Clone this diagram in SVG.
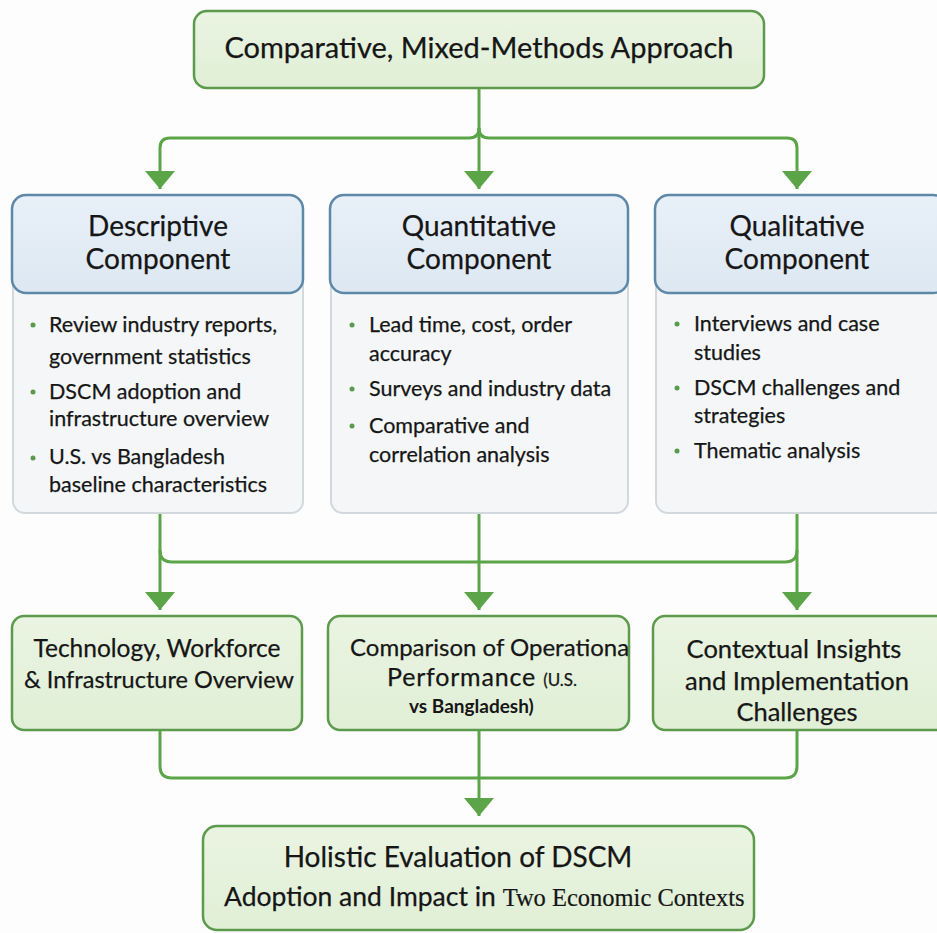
<svg xmlns="http://www.w3.org/2000/svg" width="937" height="933" viewBox="0 0 937 933">
  <defs>
    <linearGradient id="greenFill" x1="0" y1="0" x2="0" y2="1">
      <stop offset="0" stop-color="#eaf4e2"/>
      <stop offset="1" stop-color="#e0efd6"/>
    </linearGradient>
    <linearGradient id="blueFill" x1="0" y1="0" x2="0" y2="1">
      <stop offset="0" stop-color="#e8f0f8"/>
      <stop offset="1" stop-color="#dde8f2"/>
    </linearGradient>
    <!-- filled triangular head, tip at the end of the line -->
    <marker id="arrow" viewBox="0 0 18 30" refX="18" refY="15" markerWidth="18" markerHeight="30" markerUnits="userSpaceOnUse" orient="auto">
      <path d="M0,0 L18,15 L0,30 Z" fill="#5ba548"/>
    </marker>
  </defs>
  <style>
    text { font-family: Lato, "Open Sans", "Liberation Sans", sans-serif; fill: #161616; stroke: #161616; stroke-width: 0.25px; }
    .green { fill: url(#greenFill); stroke: #5c9a4c; stroke-width: 2.5; }
    .head { fill: url(#blueFill); stroke: #5d88a8; stroke-width: 2.5; }
    .body { fill: #f4f6f8; stroke: #d3d8dd; stroke-width: 2; }
    .title { font-size: 29px; text-anchor: middle; }
    .hdr { font-size: 28px; text-anchor: middle; }
    .item { font-size: 21.5px; }
    .dot { fill: #5a9a4a; }
    .mid { font-size: 24.5px; text-anchor: middle; }
    .link { fill: none; stroke: #5ba548; stroke-width: 3; }
  </style>

  <rect width="937" height="933" fill="#fdfdfd"/>

  <!-- connectors -->
  <g id="connectors">
    <path class="link" d="M479,88 V128 Q479,138 469,138 H170 Q160,138 160,148 V189" marker-end="url(#arrow)"/>
    <path class="link" d="M479,128 Q479,138 489,138 H787 Q797,138 797,148 V189" marker-end="url(#arrow)"/>
    <path class="link" d="M479,128 V189" marker-end="url(#arrow)"/>

    <path class="link" d="M160,513 V610" marker-end="url(#arrow)"/>
    <path class="link" d="M479,513 V610" marker-end="url(#arrow)"/>
    <path class="link" d="M797,513 V610" marker-end="url(#arrow)"/>
    <path class="link" d="M160,550 Q160,562 172,562 H785 Q797,562 797,550"/>

    <path class="link" d="M160,730 V766 Q160,778 172,778 H785 Q797,778 797,766 V730"/>
    <path class="link" d="M479,730 V816" marker-end="url(#arrow)"/>
  </g>

  <!-- top -->
  <g id="approach">
    <rect class="green" x="194" y="11" width="570" height="77" rx="13"/>
    <text class="title" x="479" y="58">Comparative, Mixed-Methods Approach</text>
  </g>

  <!-- components -->
  <g id="descriptive">
    <rect class="body" x="13" y="270" width="290" height="243" rx="12"/>
    <rect class="head" x="12" y="195" width="291" height="98" rx="14"/>
    <text class="hdr" x="158" y="236">Descriptive</text>
    <text class="hdr" x="158" y="269">Component</text>
    <circle class="dot" cx="33" cy="325" r="2.5"/>
    <text class="item" x="49" y="332">Review industry reports,</text>
    <text class="item" x="49" y="364">government statistics</text>
    <circle class="dot" cx="33" cy="392" r="2.5"/>
    <text class="item" x="49" y="399">DSCM adoption and</text>
    <text class="item" x="49" y="426">infrastructure overview</text>
    <circle class="dot" cx="33" cy="458" r="2.5"/>
    <text class="item" x="49" y="464">U.S. vs Bangladesh</text>
    <text class="item" x="49" y="492">baseline characteristics</text>
  </g>

  <g id="quantitative">
    <rect class="body" x="331" y="270" width="297" height="243" rx="12"/>
    <rect class="head" x="330" y="195" width="298" height="98" rx="14"/>
    <text class="hdr" x="479" y="236">Quantitative</text>
    <text class="hdr" x="479" y="269">Component</text>
    <circle class="dot" cx="352" cy="325" r="2.5"/>
    <text class="item" x="369" y="332">Lead time, cost, order</text>
    <text class="item" x="369" y="361">accuracy</text>
    <circle class="dot" cx="352" cy="389" r="2.5"/>
    <text class="item" x="369" y="396">Surveys and industry data</text>
    <circle class="dot" cx="352" cy="426" r="2.5"/>
    <text class="item" x="369" y="433">Comparative and</text>
    <text class="item" x="369" y="462">correlation analysis</text>
  </g>

  <g id="qualitative">
    <rect class="body" x="656" y="270" width="290" height="243" rx="12"/>
    <rect class="head" x="655" y="195" width="292" height="98" rx="14"/>
    <text class="hdr" x="797" y="236">Qualitative</text>
    <text class="hdr" x="797" y="269">Component</text>
    <circle class="dot" cx="677" cy="324" r="2.5"/>
    <text class="item" x="694" y="331">Interviews and case</text>
    <text class="item" x="694" y="360">studies</text>
    <circle class="dot" cx="677" cy="388" r="2.5"/>
    <text class="item" x="694" y="395">DSCM challenges and</text>
    <text class="item" x="694" y="423">strategies</text>
    <circle class="dot" cx="677" cy="451" r="2.5"/>
    <text class="item" x="694" y="458">Thematic analysis</text>
  </g>

  <!-- outcomes -->
  <g id="technology">
    <rect class="green" x="12" y="616" width="290" height="114" rx="12"/>
    <text class="mid" x="157" y="657">Technology, Workforce</text>
    <text class="mid" x="159" y="688" style="font-size:23.5px">&amp; Infrastructure Overview</text>
  </g>

  <g id="comparison">
    <rect class="green" x="328" y="616" width="301" height="114" rx="12"/>
    <text x="350" y="656" style="font-size:24px">Comparison of Operationa</text>
    <text x="387" y="686" style="font-size:25px;letter-spacing:0.8px">Performance <tspan style="font-size:17px;letter-spacing:0">(U.S.</tspan></text>
    <text x="409" y="713" style="font-size:19px;font-weight:bold;stroke-width:0">vs Bangladesh)</text>
  </g>

  <g id="contextual">
    <rect class="green" x="653" y="616" width="300" height="114" rx="12"/>
    <text class="mid" x="794" y="658" style="font-size:25.5px">Contextual Insights</text>
    <text class="mid" x="797" y="690" style="font-size:25.5px">and Implementation</text>
    <text class="mid" x="797" y="721" style="font-size:25.5px">Challenges</text>
  </g>

  <!-- result -->
  <g id="holistic">
    <rect class="green" x="203" y="826" width="551" height="104" rx="14"/>
    <text x="458" y="867" style="font-size:28px;text-anchor:middle">Holistic Evaluation of DSCM</text>
    <text x="224" y="906" style="font-size:26.5px">Adoption and Impact in <tspan style="font-family:'Liberation Serif',serif;font-size:24.5px;stroke-width:0.2px">Two Economic Contexts</tspan></text>
  </g>
</svg>
